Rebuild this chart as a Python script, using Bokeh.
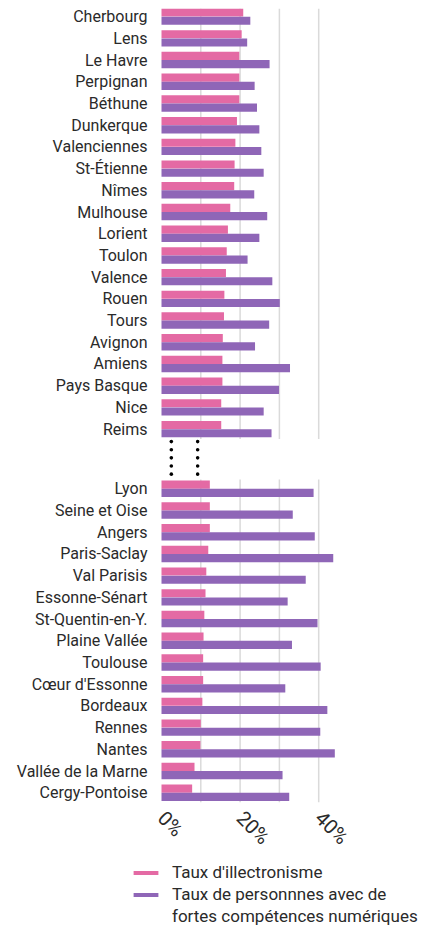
from bokeh.plotting import figure
from bokeh.models import Legend, LegendItem, FixedTicker, ColumnDataSource
from bokeh.layouts import column
from bokeh.embed import file_html
from bokeh.resources import INLINE
import math

# ---- data ----
top_cities = ["Cherbourg", "Lens", "Le Havre", "Perpignan", "Béthune", "Dunkerque",
              "Valenciennes", "St-Étienne", "Nîmes", "Mulhouse", "Lorient", "Toulon",
              "Valence", "Rouen", "Tours", "Avignon", "Amiens", "Pays Basque", "Nice", "Reims"]
top_illect = [20.8, 20.4, 19.8, 19.8, 19.8, 19.2, 18.8, 18.6, 18.5, 17.5,
              16.9, 16.6, 16.4, 16.0, 15.9, 15.6, 15.5, 15.5, 15.2, 15.2]
top_skills = [22.6, 21.8, 27.5, 23.7, 24.3, 24.9, 25.4, 26.0, 23.6, 26.9,
              24.9, 21.9, 28.2, 30.1, 27.4, 23.8, 32.7, 29.9, 26.0, 28.0]

bottom_cities = ["Lyon", "Seine et Oise", "Angers", "Paris-Saclay", "Val Parisis",
                 "Essonne-Sénart", "St-Quentin-en-Y.", "Plaine Vallée", "Toulouse",
                 "Cœur d'Essonne", "Bordeaux", "Rennes", "Nantes", "Vallée de la Marne",
                 "Cergy-Pontoise"]
bottom_illect = [12.3, 12.3, 12.3, 11.9, 11.4, 11.2, 10.9, 10.7, 10.6, 10.6,
                 10.4, 10.0, 9.9, 8.4, 7.8]
bottom_skills = [38.7, 33.4, 39.0, 43.7, 36.7, 32.1, 39.7, 33.2, 40.5, 31.5,
                 42.2, 40.4, 44.1, 30.8, 32.5]

x_ticks = [0, 20, 40]
x_tick_labels = ["0%", "20%", "40%"]
grid_values = [10, 20, 30, 40]

series_names = ["Taux d'illectronisme",
                "Taux de personnnes avec de",
                "fortes compétences numériques"]

PINK = "#E46AA4"
PURPLE = "#8F66B7"
TEXT = "#2a2a2a"
FONT = "Roboto"

# ---- geometry ----
PX_PER_PCT = 3.93          # horizontal scale
FRAME_W = 305
LEFT_PAD_PCT = 31 / PX_PER_PCT   # frame starts left of the 0% line (room for legend swatches)
x_start = -LEFT_PAD_PCT
x_end = x_start + FRAME_W / PX_PER_PCT

ROW = 4
GAP = 11
top_y = [-ROW * i for i in range(len(top_cities))]
bot_start = top_y[-1] - GAP
bot_y = [bot_start - ROW * j for j in range(len(bottom_cities))]

cities = top_cities + bottom_cities
ys = top_y + bot_y
illect = top_illect + bottom_illect
skills = top_skills + bottom_skills

OFF = 0.76
BH = 1.5
src = ColumnDataSource(dict(
    y_il=[y + OFF for y in ys], y_sk=[y - OFF for y in ys],
    il=illect, sk=skills))

y_top = 1.5
y_bot = bot_y[-1] - 1.8

p = figure(frame_width=FRAME_W, frame_height=794,
           x_range=(x_start, x_end), y_range=(y_bot, y_top),
           min_border_left=130, min_border_right=0, min_border_top=8,
           min_border_bottom=55,
           output_backend="svg", toolbar_location=None)
p.outline_line_color = None
p.xgrid.visible = False
p.ygrid.visible = False

# grid segments (interrupted between the two blocks)
for lo, hi in [(top_y[-1] - 1.8, y_top), (y_bot, bot_y[0] + 1.7)]:
    p.segment(x0=grid_values, x1=grid_values, y0=[lo] * len(grid_values),
              y1=[hi] * len(grid_values), line_color="#dadada", line_width=1.5)

r1 = p.hbar(y="y_il", right="il", left=0, height=BH, source=src,
            fill_color=PINK, line_color=None)
r2 = p.hbar(y="y_sk", right="sk", left=0, height=BH, source=src,
            fill_color=PURPLE, line_color=None)

# break marks
gap_top = top_y[-1] - 2.3
gap_bot = bot_y[0] + 2.7
n = 5
dot_y = [gap_top - k * (gap_top - gap_bot) / (n - 1) for k in range(n)]
p.scatter(x=[2.5] * n + [9.2] * n, y=dot_y + dot_y, size=3.6,
          fill_color="black", line_color=None)

# axes
p.yaxis.ticker = FixedTicker(ticks=ys)
p.yaxis.major_label_overrides = {y: c for y, c in zip(ys, cities)}
p.yaxis.axis_line_color = None
p.yaxis.major_tick_line_color = None
p.yaxis.minor_tick_line_color = None
p.yaxis.major_tick_out = 0
p.yaxis.major_tick_in = 0
p.yaxis.minor_tick_out = 0
p.yaxis.major_label_standoff = -17
p.yaxis.major_label_text_font = FONT
p.yaxis.major_label_text_font_size = "16px"
p.yaxis.major_label_text_color = TEXT

p.xaxis.ticker = FixedTicker(ticks=x_ticks)
p.xaxis.major_label_overrides = {t: l for t, l in zip(x_ticks, x_tick_labels)}
p.xaxis.axis_line_color = None
p.xaxis.major_tick_line_color = None
p.xaxis.minor_tick_line_color = None
p.xaxis.major_tick_out = 0
p.xaxis.major_tick_in = 0
p.xaxis.minor_tick_out = 0
p.xaxis.major_label_orientation = -math.pi / 4
p.xaxis.major_label_standoff = 12
p.xaxis.major_label_text_font = FONT
p.xaxis.major_label_text_font_size = "20px"
p.xaxis.major_label_text_color = TEXT

# ---- legend strip below (its frame is aligned with the chart frame) ----
lg = figure(frame_width=FRAME_W, frame_height=66, x_range=(0, 1), y_range=(0, 1),
            min_border_left=130, min_border_right=0, min_border_top=0,
            min_border_bottom=0, output_backend="svg", toolbar_location=None)
lg.outline_line_color = None
lg.xaxis.visible = False
lg.yaxis.visible = False
lg.xgrid.visible = False
lg.ygrid.visible = False
# legend proxies (outside the visible range; only their swatches are shown)
l1 = lg.hbar(y=[-5], right=[1], left=0, height=1, fill_color=PINK, line_color=None)
l2 = lg.hbar(y=[-5], right=[1], left=0, height=1, fill_color=PURPLE, line_color=None)
l3 = lg.hbar(y=[-5], right=[1], left=0, height=1, fill_alpha=0, line_color=None)

legend = Legend(items=[LegendItem(label=series_names[0], renderers=[l1]),
                       LegendItem(label=series_names[1], renderers=[l2]),
                       LegendItem(label=series_names[2], renderers=[l3])],
                location=(0, 0), orientation="vertical",
                glyph_width=31, glyph_height=5, label_standoff=11, spacing=2,
                label_height=20,
                padding=0, margin=0, border_line_color=None,
                background_fill_alpha=0,
                label_text_font=FONT, label_text_font_size="17px",
                label_text_color=TEXT)
lg.add_layout(legend)

open("out.html", "w").write(file_html(column(p, lg), INLINE))
